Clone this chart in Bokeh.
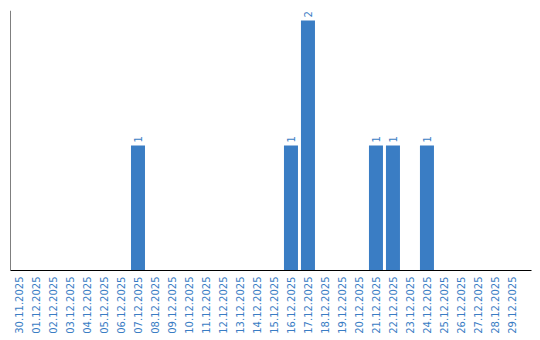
import math
from bokeh.plotting import figure
from bokeh.models import ColumnDataSource, FixedTicker, Span, Range1d
from bokeh.core.properties import value
from bokeh.embed import file_html
from bokeh.resources import INLINE

dates = ["30.11.2025", "01.12.2025", "02.12.2025", "03.12.2025", "04.12.2025",
         "05.12.2025", "06.12.2025", "07.12.2025", "08.12.2025", "09.12.2025",
         "10.12.2025", "11.12.2025", "12.12.2025", "13.12.2025", "14.12.2025",
         "15.12.2025", "16.12.2025", "17.12.2025", "18.12.2025", "19.12.2025",
         "20.12.2025", "21.12.2025", "22.12.2025", "23.12.2025", "24.12.2025",
         "25.12.2025", "26.12.2025", "27.12.2025", "28.12.2025", "29.12.2025"]
counts = [0, 0, 0, 0, 0, 0, 0, 1, 0, 0,
          0, 0, 0, 0, 0, 0, 1, 2, 0, 0,
          0, 1, 1, 0, 1, 0, 0, 0, 0, 0]

BLUE = "#3a7dc4"
idx = list(range(len(dates)))
src = ColumnDataSource(dict(x=idx, y=counts, d=dates))
nz = [i for i, c in enumerate(counts) if c > 0]
lab = ColumnDataSource(dict(x=[idx[i] for i in nz], y=[counts[i] for i in nz],
                            t=[str(counts[i]) for i in nz]))

p = figure(width=540, height=340, output_backend="svg", toolbar_location=None,
           x_range=Range1d(-0.5, 30.15), y_range=Range1d(0, 2.08),
           min_border_left=10, min_border_right=9, min_border_top=10, min_border_bottom=70)
p.outline_line_color = None
p.grid.visible = False
p.background_fill_color = "white"
p.border_fill_color = "white"

p.vbar(x="x", top="y", width=0.824, bottom=0, source=src, fill_color=BLUE, line_color=None)
p.text(x="x", y="y", text="t", source=lab, angle=math.pi / 2, y_offset=-3,
       text_align="left", text_baseline="middle", text_color=BLUE,
       text_font=value("DejaVu Sans"), text_font_size="10px")

p.yaxis.visible = False
p.add_layout(Span(location=-0.5, dimension="height", line_color="black", line_width=1))

xa = p.xaxis[0]
xa.ticker = FixedTicker(ticks=idx)
xa.major_label_overrides = {i: d for i, d in zip(idx, dates)}
xa.major_label_orientation = math.pi / 2
xa.major_tick_in = 0
xa.major_tick_out = 0
xa.minor_tick_in = 0
xa.minor_tick_out = 0
xa.major_label_standoff = 6
xa.major_label_text_font = "DejaVu Sans"
xa.major_label_text_font_size = "10px"
xa.major_label_text_color = BLUE
xa.axis_line_color = "black"

open("out.html", "w").write(file_html(p, INLINE))
